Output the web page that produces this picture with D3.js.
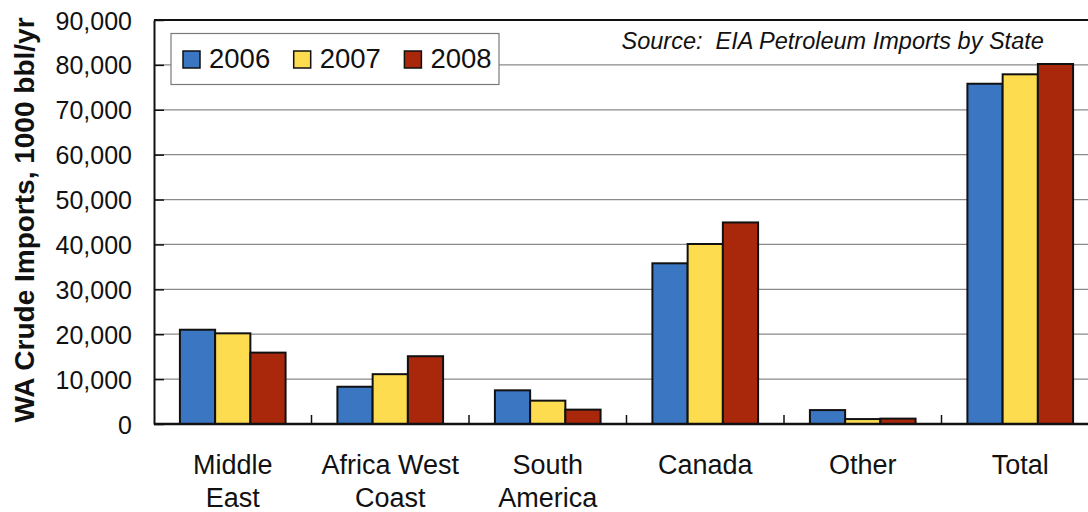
<!DOCTYPE html>
<html>
<head>
<meta charset="utf-8">
<script src="https://cdn.jsdelivr.net/npm/d3@7"></script>
<style>
  html, body { margin: 0; padding: 0; background: #fff; }
  svg { display: block; font-family: "Liberation Sans", Arial, sans-serif; }
</style>
</head>
<body>
<svg id="chart" width="1088" height="512"></svg>
<script>
// Washington State crude imports by origin, thousand barrels per year
const categories = [["Middle", "East"], ["Africa West", "Coast"], ["South", "America"], ["Canada"], ["Other"], ["Total"]];
const years = ["2006", "2007", "2008"];
const values2006 = [21000, 8300, 7500, 35800, 3100, 75800];
const values2007 = [20200, 11100, 5200, 40100, 1100, 77900];
const values2008 = [15900, 15100, 3200, 44900, 1200, 80200];
const yTicks = [0, 10000, 20000, 30000, 40000, 50000, 60000, 70000, 80000, 90000];
const colors = ["#3b76c3", "#fddc50", "#a9270b"];

const series = [values2006, values2007, values2008];
const svg = d3.select("#chart");

const plot = { left: 154, right: 1099, top: 20, bottom: 424 };

const catKeys = categories.map(c => c.join(" "));
const x0 = d3.scaleBand()
  .domain(catKeys)
  .range([plot.left, plot.right])
  .paddingInner(0.329)
  .paddingOuter(0.1645);
const x1 = d3.scaleBand()
  .domain(years)
  .range([0, x0.bandwidth()]);
const y = d3.scaleLinear()
  .domain([0, 90000])
  .range([plot.bottom, plot.top]);

// horizontal gridlines
svg.append("g")
  .selectAll("line")
  .data(yTicks.filter(t => t > 0 && t < 90000))
  .join("line")
  .attr("x1", plot.left).attr("x2", plot.right)
  .attr("y1", d => y(d)).attr("y2", d => y(d))
  .attr("stroke", "#8a8a8a")
  .attr("stroke-width", 1.2);

// top frame edge
svg.append("line")
  .attr("x1", plot.left).attr("x2", plot.right)
  .attr("y1", y(90000)).attr("y2", y(90000))
  .attr("stroke", "#111").attr("stroke-width", 2);

// bars
const step = x0.step();
const catStart = i => plot.left + i * step;
const groups = svg.append("g")
  .selectAll("g")
  .data(catKeys)
  .join("g")
  .attr("transform", d => `translate(${x0(d)},0)`);

groups.selectAll("rect")
  .data((d, i) => years.map((yr, s) => ({ yr, v: series[s][i], s })))
  .join("rect")
  .attr("x", d => x1(d.yr))
  .attr("width", x1.bandwidth())
  .attr("y", d => y(d.v))
  .attr("height", d => y(0) - y(d.v))
  .attr("fill", d => colors[d.s])
  .attr("stroke", "#111")
  .attr("stroke-width", 2);

// y axis
const yAxis = d3.axisLeft(y)
  .tickValues(yTicks)
  .tickFormat(d3.format(","))
  .tickSizeInner(-10)
  .tickSizeOuter(0)
  .tickPadding(22);
const gy = svg.append("g")
  .attr("transform", `translate(${plot.left},0)`)
  .call(yAxis);
gy.select(".domain").attr("stroke", "#111").attr("stroke-width", 2);
gy.selectAll(".tick line").attr("stroke", "#111").attr("stroke-width", 1.5);
gy.selectAll(".tick text")
  .attr("font-size", 25)
  .attr("font-family", "'Liberation Sans', Arial, sans-serif")
  .attr("fill", "#111")
  .attr("dy", "0.36em");

// x axis baseline with category dividers
svg.append("line")
  .attr("x1", plot.left).attr("x2", plot.right)
  .attr("y1", y(0)).attr("y2", y(0))
  .attr("stroke", "#111").attr("stroke-width", 2.5);

svg.append("g")
  .selectAll("line")
  .data(d3.range(1, catKeys.length))
  .join("line")
  .attr("x1", i => catStart(i)).attr("x2", i => catStart(i))
  .attr("y1", y(0)).attr("y2", y(0) - 9)
  .attr("stroke", "#111").attr("stroke-width", 1.5);

// category labels
const labels = svg.append("g")
  .selectAll("text")
  .data(categories)
  .join("text")
  .attr("x", (d, i) => x0(catKeys[i]) + x0.bandwidth() / 2)
  .attr("y", 474)
  .attr("text-anchor", "middle")
  .attr("font-size", 27)
  .attr("fill", "#111");
labels.selectAll("tspan")
  .data(d => d)
  .join("tspan")
  .attr("x", function () { return d3.select(this.parentNode).attr("x"); })
  .attr("dy", (d, i) => i === 0 ? 0 : 33)
  .text(d => d);

// y axis title
svg.append("text")
  .attr("transform", "translate(33.5,220) rotate(-90)")
  .attr("text-anchor", "middle")
  .attr("font-size", 28)
  .attr("font-weight", "bold")
  .attr("fill", "#111")
  .text("WA Crude Imports, 1000 bbl/yr");

// legend
const legend = svg.append("g");
legend.append("rect")
  .attr("x", 171).attr("y", 33.5)
  .attr("width", 328).attr("height", 51)
  .attr("fill", "#fff")
  .attr("stroke", "#7a7a7a").attr("stroke-width", 1.2);
const items = legend.selectAll("g")
  .data(years)
  .join("g")
  .attr("transform", (d, i) => `translate(${183 + i * 110.7},0)`);
items.append("rect")
  .attr("x", 0).attr("y", 51)
  .attr("width", 17).attr("height", 17)
  .attr("fill", (d, i) => colors[i])
  .attr("stroke", "#111").attr("stroke-width", 1.5);
items.append("text")
  .attr("x", 26).attr("y", 67.5)
  .attr("font-size", 27.5)
  .attr("fill", "#111")
  .text(d => d);

// source note
svg.append("text")
  .attr("x", 621.5).attr("y", 49)
  .attr("font-size", 23.5)
  .attr("font-style", "italic")
  .attr("fill", "#111")
  .attr("xml:space", "preserve")
  .style("white-space", "pre")
  .text("Source:  EIA Petroleum Imports by State");
</script>
</body>
</html>
